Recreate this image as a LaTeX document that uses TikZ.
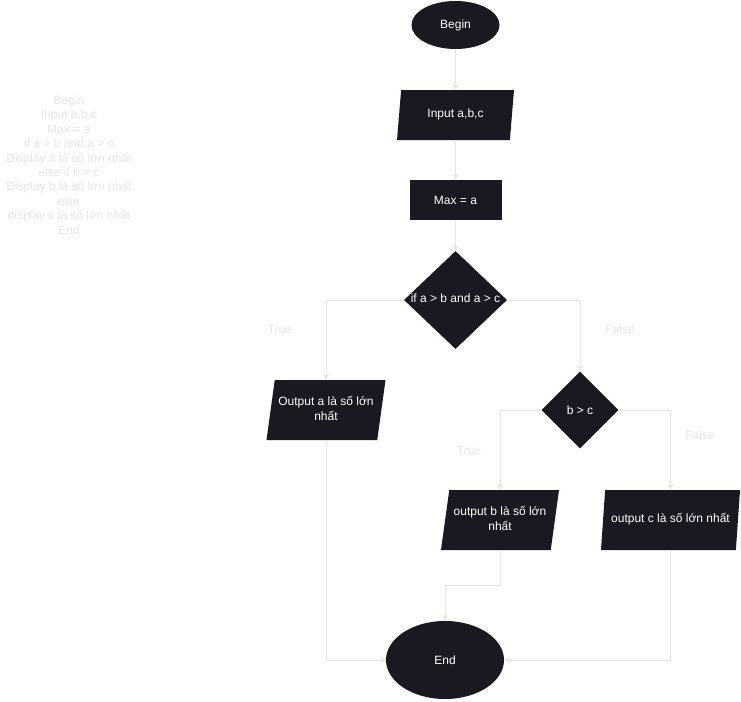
\documentclass[tikz,border=0pt]{standalone}
\usepackage{fontspec}
\setmainfont{Liberation Sans}
\usepackage{xcolor}
\usepackage{tikz}
\usetikzlibrary{positioning, arrows.meta, shapes.geometric, calc}
\definecolor{boxFill}{HTML}{1A1820}
\definecolor{lineGray}{HTML}{E6E6E6}
\definecolor{noteGray}{HTML}{E8E8E8}
\newcommand{\nowidth}[1]{\makebox[0pt]{\begin{tabular}{@{}c@{}}#1\end{tabular}}}

\begin{document}
\begin{tikzpicture}[x=1pt, y=-1pt,
        font=\fontsize{12}{14.4}\selectfont, >=Stealth,
        base/.style={fill=boxFill, text=white, inner sep=0pt},
        term/.style={base, ellipse},
        io/.style={base, trapezium, trapezium left angle=74, trapezium right angle=106, trapezium stretches body=true, minimum height=60},
        proc/.style={base, rectangle, minimum width=92, minimum height=40},
        dec/.style={base, diamond, minimum width=103, minimum height=98},
        tag/.style={text=noteGray},
        arr/.style={draw=lineGray, line width=1pt, -{Stealth[length=6pt, width=6pt]}}]
        \path[fill=white, use as bounding box] (0,0) rectangle (741,701);
        \node[tag, align=center] (code) at (69,165) {Begin\\Input a,b,c\\Max = a\\if a > b and a > c\\Display a là số lớn nhất\\
              else if b > c\\Display b là số lớn nhất\\else\\display c là số lớn nhất\\End};
        \node[term, minimum width=88, minimum height=48] (begin) at (455.5,25) {Begin};
        \node[io, minimum width=117, minimum height=50] (input) at (455.5,115) {\nowidth{Input a,b,c}};
        \node[proc] (max) at (455.5,200) {Max = a};
        \node[dec] (ifa) at (455.5,300) {\nowidth{if a > b and a > c}};
        \node[dec, minimum width=77, minimum height=77] (ifb) at (580,410) {b > c};
        \node[io, minimum width=119] (outa) at (326,410) {\nowidth{Output a là số lớn\\nhất}};
        \node[io, minimum width=118] (outb) at (500,520) {\nowidth{output b là số lớn\\nhất}};
        \node[io, minimum width=139] (outc) at (670.5,520) {\nowidth{output c là số lớn nhất}};
        \node[term, minimum width=118, minimum height=78] (end) at (445,660) {End};
        \node[tag] (ta) at (280,329) {True};
        \node[tag] (fa) at (620,329) {False};
        \node[tag] (tb) at (469,450) {True};
        \node[tag] (fb) at (700,435) {False};
        \draw[arr] (begin)--(input); \draw[arr] (input)--(max); \draw[arr] (max)--(ifa);
        \draw[arr] (ifa.west) -| (outa.north); \draw[arr] (ifa.east) -| (ifb.north);
        \draw[arr] (ifb.west) -| (outb.north); \draw[arr] (ifb.east) -| (outc.north);
        \draw[arr] (outa.south) |- (end.west); \draw[arr] (outc.south) |- (end.east);
        \draw[arr] (outb.south) -- ++(0,35) -| (end.north);
      \end{tikzpicture}
\end{document}
